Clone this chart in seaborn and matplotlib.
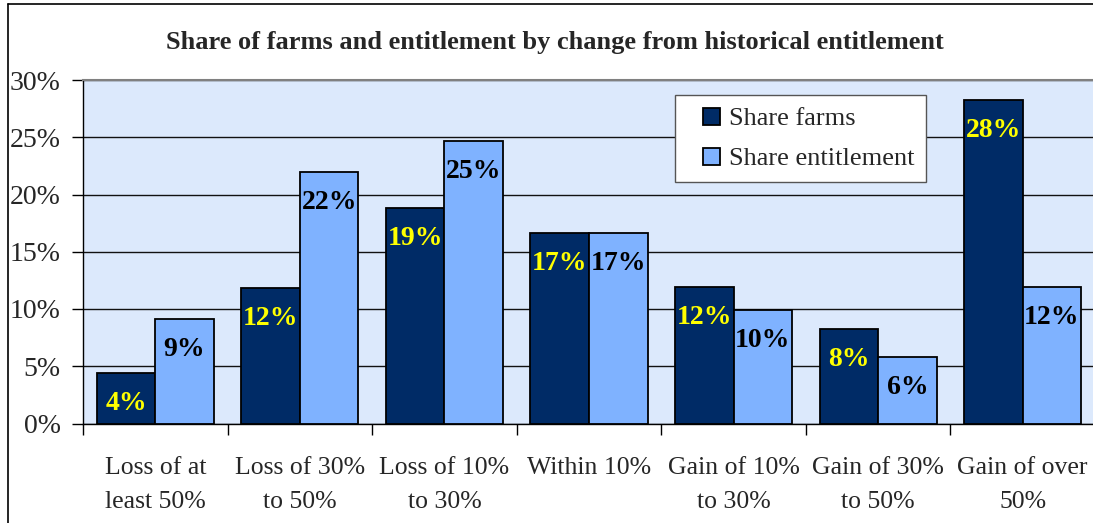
import matplotlib
matplotlib.use("Agg")
import matplotlib.pyplot as plt
from matplotlib.lines import Line2D
from matplotlib.patches import Rectangle
from matplotlib.legend_handler import HandlerPatch
import pandas as pd
import seaborn as sns

categories = ["Loss of at\nleast 50%", "Loss of 30%\nto 50%", "Loss of 10%\nto 30%",
              "Within 10%", "Gain of 10%\nto 30%", "Gain of 30%\nto 50%", "Gain of over\n50%"]
share_farms = [4.45, 11.8, 18.8, 16.6, 11.9, 8.25, 28.25]
share_entitlement = [9.1, 22.0, 24.7, 16.6, 9.9, 5.8, 11.9]
series = ["Share farms", "Share entitlement"]
yticks = [0, 5, 10, 15, 20, 25, 30]

navy = "#002B66"
light = "#7FB2FF"

sns.set_theme(style="white")
plt.rcParams["font.family"] = ["Liberation Serif", "DejaVu Serif"]

df = pd.DataFrame({
    "category": categories * 2,
    "value": share_farms + share_entitlement,
    "series": [series[0]] * len(categories) + [series[1]] * len(categories),
})

fig = plt.figure(figsize=(10.93, 5.23), dpi=100)
ax = fig.add_axes([83 / 1093, 1 - 423.5 / 523, 1012 / 1093, 343.5 / 523])
ax.set_facecolor("#DCE9FC")

sns.barplot(data=df, x="category", y="value", hue="series", order=categories,
            hue_order=series, palette=[navy, light], saturation=1, width=0.81,
            edgecolor="black", linewidth=1.3, ax=ax, zorder=3)

# value labels inside the top of each bar
for cont, colour in zip(ax.containers, ["#FFFF00", "black"]):
    for bar in cont:
        h = bar.get_height()
        ax.annotate(f"{h:.0f}%", (bar.get_x() + bar.get_width() / 2, h),
                    xytext=(0, -22), textcoords="offset points",
                    ha="center", va="center", fontsize=20, fontweight="bold",
                    color=colour, zorder=5)

ax.set_ylim(0, 30)
ax.set_xlim(-0.5, len(categories) - 0.5)
ax.set_yticks(yticks)
ax.set_yticklabels([f"{t}%" for t in yticks], fontsize=20)
ax.yaxis.grid(True, color="#111111", linewidth=1.0, zorder=0)
ax.set_axisbelow(True)

# category boundary ticks, labels centred between them
ax.set_xticks([i - 0.5 for i in range(len(categories) + 1)])
ax.set_xticklabels([])
ax.set_xticks(range(len(categories)), minor=True)
ax.set_xticklabels(categories, minor=True, fontsize=18.5, linespacing=1.7)
ax.tick_params(axis="x", which="major", direction="out", length=8, width=1, color="black", bottom=True)
ax.tick_params(axis="x", which="minor", length=0, pad=24, bottom=True)
ax.tick_params(axis="y", direction="out", length=8, width=1, color="black", left=True, pad=8)
ax.set_xlabel("")
ax.set_ylabel("")

for side in ["top", "right"]:
    ax.spines[side].set_color("#808080")
    ax.spines[side].set_linewidth(1.5)
for side in ["left", "bottom"]:
    ax.spines[side].set_color("black")
    ax.spines[side].set_linewidth(1.0)


def square(legend, orig_handle, xdescent, ydescent, width, height, fontsize):
    side = 12.2
    return Rectangle((width - side - xdescent, (height - side) / 2 - ydescent), side, side)


handles, labels = ax.get_legend_handles_labels()
leg = ax.legend(handles, labels, loc="upper left", bbox_to_anchor=(0.585, 0.956),
                borderaxespad=0, fontsize=19, frameon=True, fancybox=False,
                handlelength=1.25, handleheight=0.7, handletextpad=0.35,
                borderpad=0.45, labelspacing=0.62,
                handler_map={h: HandlerPatch(patch_func=square) for h in handles})
leg.get_frame().set_edgecolor("#555555")
leg.get_frame().set_linewidth(1.0)
leg.get_frame().set_facecolor("white")
leg.get_frame().set_alpha(1)

fig.text(0.508, 1 - 43 / 523, "Share of farms and entitlement by change from historical entitlement",
         ha="center", va="center", fontsize=19, fontweight="bold")

# outer chart border
fig.add_artist(Line2D([8 / 1093, 8 / 1093], [0, 1 - 4 / 523], color="black", linewidth=1.2))
fig.add_artist(Line2D([8 / 1093, 1], [1 - 4 / 523, 1 - 4 / 523], color="black", linewidth=1.2))

fig.savefig("out.png", dpi=100)
